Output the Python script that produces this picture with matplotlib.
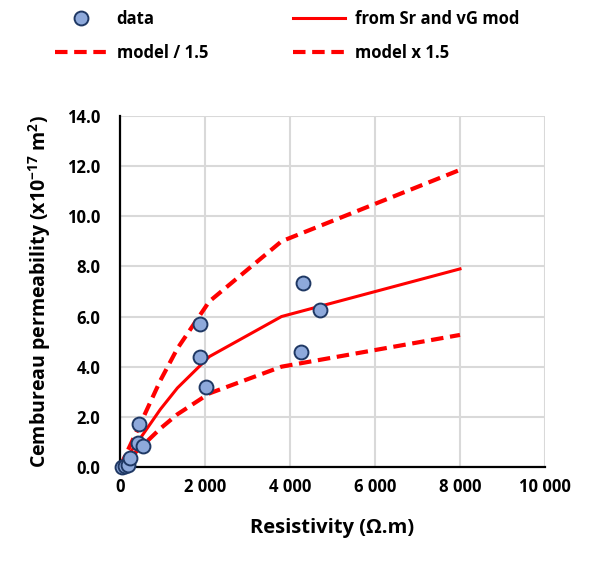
import matplotlib
matplotlib.use("Agg")
import matplotlib.pyplot as plt
from matplotlib.lines import Line2D
from matplotlib.ticker import FuncFormatter

plt.rcParams['font.family'] = ['Open Sans', 'DejaVu Sans']
plt.rcParams['font.weight'] = 'bold'
plt.rcParams['mathtext.fontset'] = 'custom'
plt.rcParams['mathtext.bf'] = 'Open Sans:bold'
plt.rcParams['mathtext.rm'] = 'Open Sans:bold'

# measured data
res_data = [40, 120, 190, 235, 430, 455, 550, 1880, 1880, 2020, 4250, 4300, 4710]
perm_data = [0.0, 0.02, 0.08, 0.35, 0.95, 1.70, 0.82, 4.40, 5.69, 3.20, 4.60, 7.33, 6.27]

# model curve (Sr and vG)
res_model = [0, 500, 950, 1350, 2100, 3800, 8000]
perm_model = [0.0, 1.2, 2.3, 3.15, 4.4, 6.0, 7.9]
factor = 1.5

red = '#FF0000'
face = '#8EA9DB'
edge = '#1F3864'
dash = (0, (3, 1.6))

fig = plt.figure(figsize=(5.92, 5.61), dpi=100)
ax = fig.add_axes([0.2027, 0.1676, 0.7179, 0.6257])

ax.plot(res_model, [p * factor for p in perm_model], color=red, lw=3, ls=dash, zorder=2)
ax.plot(res_model, [p / factor for p in perm_model], color=red, lw=3, ls=dash, zorder=2)
ax.plot(res_model, perm_model, color=red, lw=2.2, zorder=3)
ax.plot(res_data, perm_data, ls='none', marker='o', ms=10, mfc=face, mec=edge, mew=1.4,
        zorder=6, clip_on=False)

ax.set_xlim(0, 10000)
ax.set_ylim(0, 14)
ax.set_xticks(range(0, 10001, 2000))
ax.set_yticks(range(0, 15, 2))
ax.xaxis.set_major_formatter(FuncFormatter(lambda v, p: f"{int(v):,}".replace(',', ' ')))
ax.yaxis.set_major_formatter(FuncFormatter(lambda v, p: f"{v:.1f}"))
ax.tick_params(length=0, labelsize=12)
ax.tick_params(axis='y', pad=14)
ax.tick_params(axis='x', pad=8)
ax.grid(True, color='#D9D9D9', lw=1.5)
ax.set_axisbelow(True)
for s in ['top', 'right']:
    ax.spines[s].set_visible(False)
for s in ['left', 'bottom']:
    ax.spines[s].set_linewidth(1.6)
    ax.spines[s].set_color('black')
    ax.spines[s].set_zorder(5)

ax.set_xlabel('Resistivity (Ω.m)', fontsize=14.5, fontweight='bold', labelpad=16)
ax.set_ylabel('Cembureau permeability (x10$^{\\mathbf{-17}}$ m$^{\\mathbf{2}}$)', fontsize=14,
              fontweight='bold', labelpad=10)

# legend above the plot
handles = [
    Line2D([], [], ls='none', marker='o', ms=10, mfc=face, mec=edge, mew=1.4),
    Line2D([], [], color=red, lw=3, ls=dash),
    Line2D([], [], color=red, lw=2.2),
    Line2D([], [], color=red, lw=3, ls=dash),
]
labels = ['data', 'model / 1.5', 'from Sr and vG mod', 'model x 1.5']
fig.legend(handles, labels, ncol=2, loc='upper left', bbox_to_anchor=(55 / 592, 1 - 10 / 561),
           frameon=False, fontsize=12, handlelength=3.1, handletextpad=0.6,
           columnspacing=5.1, labelspacing=0.95, borderpad=0, borderaxespad=0)

fig.savefig('out.png', dpi=100)
